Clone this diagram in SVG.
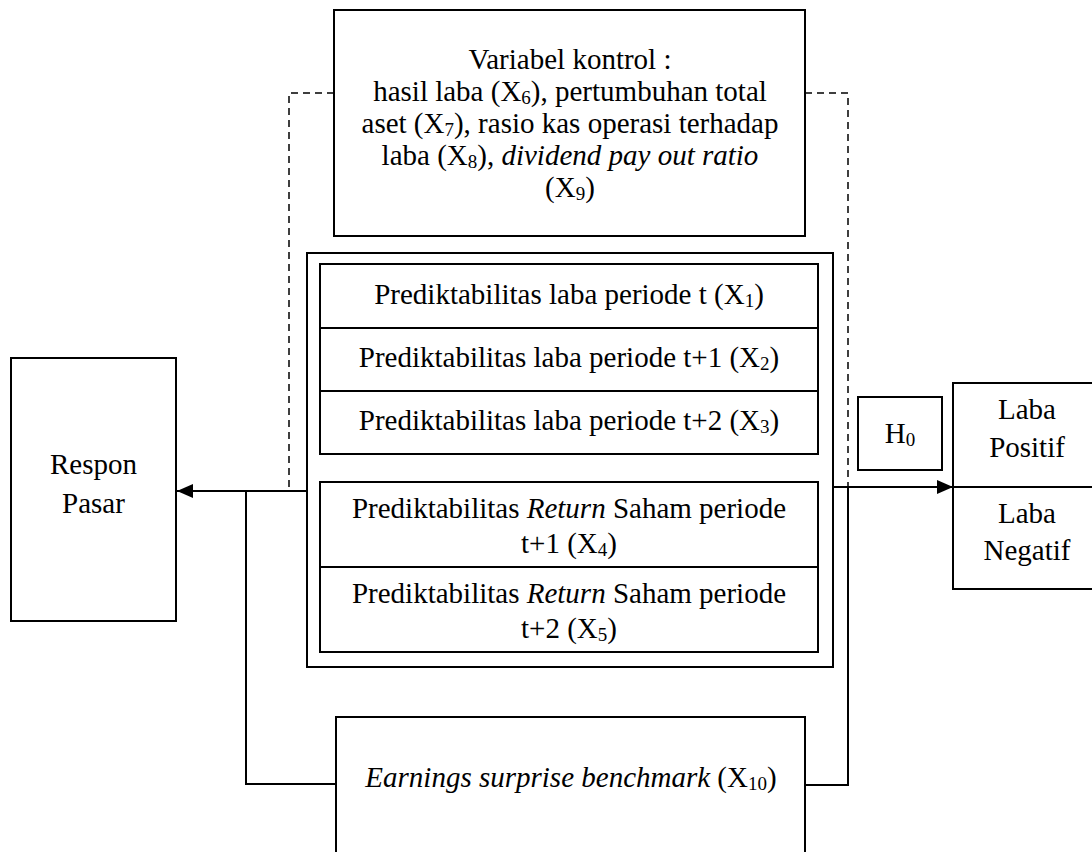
<svg xmlns="http://www.w3.org/2000/svg" width="1092" height="852" viewBox="0 0 1092 852">
<defs>
  <marker id="arr" markerWidth="16" markerHeight="14" refX="16" refY="7" orient="auto" markerUnits="userSpaceOnUse">
    <path d="M0,0 L16,7 L0,14 Z" fill="#000"/>
  </marker>
</defs>
<rect width="1092" height="852" fill="#fff"/>

<g id="connectors" fill="none" stroke="#000" stroke-width="2">
  <path stroke-width="1.5" stroke-dasharray="7 5" d="M334,93 H289 V491"/>
  <path stroke-width="1.5" stroke-dasharray="7 5" d="M805,93 H848 V487"/>
  <line x1="307" y1="491" x2="177" y2="491" marker-end="url(#arr)"/>
  <line x1="833" y1="487" x2="953" y2="487" marker-end="url(#arr)"/>
  <path d="M246,491 V784 H336"/>
  <path d="M848,487 V785 H805"/>
</g>

<g id="control">
  <rect x="334" y="10" width="471" height="226" fill="#fff" stroke="#000" stroke-width="2"/>
  <text font-family="Liberation Serif" font-size="29" x="570" y="69" text-anchor="middle">Variabel kontrol :</text>
  <text font-family="Liberation Serif" font-size="29" x="570" y="101" text-anchor="middle">hasil laba (X<tspan font-size="19" dy="3">6</tspan><tspan dy="-3">), pertumbuhan total</tspan></text>
  <text font-family="Liberation Serif" font-size="29" x="570" y="133" text-anchor="middle">aset (X<tspan font-size="19" dy="3">7</tspan><tspan dy="-3">), rasio kas operasi terhadap</tspan></text>
  <text font-family="Liberation Serif" font-size="29" x="570" y="165" text-anchor="middle">laba (X<tspan font-size="19" dy="3">8</tspan><tspan dy="-3">), </tspan><tspan font-style="italic">dividend pay out ratio</tspan></text>
  <text font-family="Liberation Serif" font-size="29" x="570" y="197" text-anchor="middle">(X<tspan font-size="19" dy="3">9</tspan><tspan dy="-3">)</tspan></text>
</g>

<g id="predictors">
  <rect x="307" y="253" width="526" height="414" fill="#fff" stroke="#000" stroke-width="2"/>
  <g id="x1">
    <rect x="320" y="264" width="498" height="64" fill="#fff" stroke="#000" stroke-width="2"/>
    <text font-family="Liberation Serif" font-size="29" x="569" y="304" text-anchor="middle">Prediktabilitas laba periode t (X<tspan font-size="19" dy="3">1</tspan><tspan dy="-3">)</tspan></text>
  </g>
  <g id="x2">
    <rect x="320" y="328" width="498" height="63" fill="#fff" stroke="#000" stroke-width="2"/>
    <text font-family="Liberation Serif" font-size="29" x="569" y="367" text-anchor="middle">Prediktabilitas laba periode t+1 (X<tspan font-size="19" dy="3">2</tspan><tspan dy="-3">)</tspan></text>
  </g>
  <g id="x3">
    <rect x="320" y="391" width="498" height="63" fill="#fff" stroke="#000" stroke-width="2"/>
    <text font-family="Liberation Serif" font-size="29" x="569" y="430" text-anchor="middle">Prediktabilitas laba periode t+2 (X<tspan font-size="19" dy="3">3</tspan><tspan dy="-3">)</tspan></text>
  </g>
  <g id="x4">
    <rect x="320" y="482" width="498" height="85" fill="#fff" stroke="#000" stroke-width="2"/>
    <text font-family="Liberation Serif" font-size="29" x="569" y="518" text-anchor="middle">Prediktabilitas <tspan font-style="italic">Return</tspan> Saham periode</text>
    <text font-family="Liberation Serif" font-size="29" x="569" y="553" text-anchor="middle">t+1 (X<tspan font-size="19" dy="3">4</tspan><tspan dy="-3">)</tspan></text>
  </g>
  <g id="x5">
    <rect x="320" y="567" width="498" height="85" fill="#fff" stroke="#000" stroke-width="2"/>
    <text font-family="Liberation Serif" font-size="29" x="569" y="603" text-anchor="middle">Prediktabilitas <tspan font-style="italic">Return</tspan> Saham periode</text>
    <text font-family="Liberation Serif" font-size="29" x="569" y="638" text-anchor="middle">t+2 (X<tspan font-size="19" dy="3">5</tspan><tspan dy="-3">)</tspan></text>
  </g>
</g>

<g id="respon">
  <rect x="11" y="358" width="165" height="263" fill="#fff" stroke="#000" stroke-width="2"/>
  <text font-family="Liberation Serif" font-size="29" x="93.5" y="474" text-anchor="middle">Respon</text>
  <text font-family="Liberation Serif" font-size="29" x="93.5" y="513" text-anchor="middle">Pasar</text>
</g>

<g id="h0">
  <rect x="858" y="397" width="84" height="73" fill="#fff" stroke="#000" stroke-width="2"/>
  <text font-family="Liberation Serif" font-size="29" x="900" y="443" text-anchor="middle">H<tspan font-size="19" dy="3">0</tspan></text>
</g>

<g id="laba">
  <rect x="953" y="383" width="150" height="206" fill="#fff" stroke="#000" stroke-width="2"/>
  <line x1="953" y1="487" x2="1103" y2="487" stroke="#000" stroke-width="2"/>
  <text font-family="Liberation Serif" font-size="29" x="1027" y="419" text-anchor="middle">Laba</text>
  <text font-family="Liberation Serif" font-size="29" x="1027" y="457" text-anchor="middle">Positif</text>
  <text font-family="Liberation Serif" font-size="29" x="1027" y="523" text-anchor="middle">Laba</text>
  <text font-family="Liberation Serif" font-size="29" x="1027" y="560" text-anchor="middle">Negatif</text>
</g>

<g id="earnings">
  <path d="M336,862 V717 H805 V862" fill="#fff" stroke="#000" stroke-width="2"/>
  <text font-family="Liberation Serif" font-size="29" x="571" y="787" text-anchor="middle"><tspan font-style="italic">Earnings surprise benchmark</tspan> (X<tspan font-size="19" dy="3">10</tspan><tspan dy="-3">)</tspan></text>
</g>
</svg>
